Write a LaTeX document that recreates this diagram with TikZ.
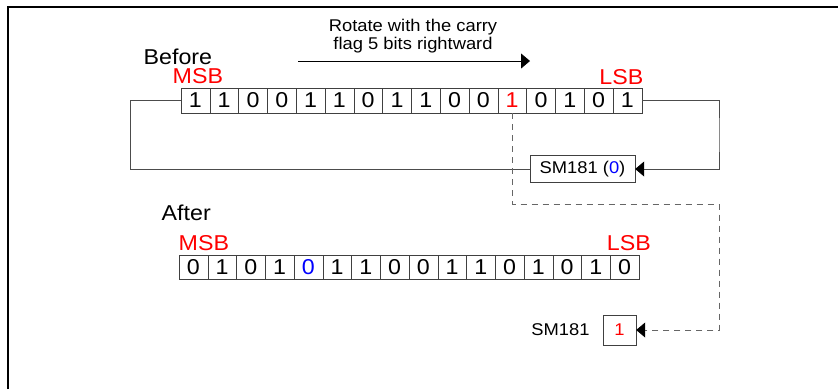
\documentclass[tikz,border=0pt]{standalone}
\usepackage{fontspec}
\setmainfont{Liberation Sans}[FakeStretch=1.08]
\usetikzlibrary{arrows.meta,positioning}

\begin{document}
\begin{tikzpicture}[
  x=1pt,y=-1pt,
  cell/.style={draw=black!75,minimum width=28.8pt,minimum height=25.5pt,inner sep=0pt,font=\fontsize{21.5}{21.5}\selectfont},
  lbl/.style={inner sep=0pt,font=\fontsize{21.5}{21.5}\selectfont},
  redlbl/.style={lbl,text=red},
  box/.style={draw=black!75,inner sep=0pt,font=\fontsize{17}{17}\selectfont},
  line/.style={draw=black!70,line width=0.9pt},
  arrow/.style={line,-{Triangle[length=9pt,width=15pt,color=black]}},
  dashline/.style={arrow,draw=black!60,dash pattern=on 6pt off 5pt}
]
\useasboundingbox (0,0) rectangle (838,389);
\draw[line width=2.4pt] (8,389) -- (8,7) -- (838,7);

% register before the rotation
\foreach \bit/\col [count=\i] in {1/black,1/black,0/black,0/black,1/black,1/black,0/black,1/black,
                                   1/black,0/black,0/black,1/red,0/black,1/black,0/black,1/black}
  \node[cell,text=\col] (b\i) at ({166.6+28.8*\i},100.5) {\bit};
\node[lbl,anchor=base west] (before) at (143.5,64.5) {Before};
\node[redlbl,anchor=base west] (msbB) at (172.5,83.5) {MSB};
\node[redlbl,anchor=base east] (lsbB) at (643.5,84.5) {LSB};

% direction of the rotation
\node[align=center,inner sep=0pt,font=\fontsize{17}{18}\selectfont] (rot) at (413,36.5)
  {Rotate with the carry\\flag 5 bits rightward};
\coordinate (rotS) at (298,61);
\coordinate (rotE) at (530,61);
\draw[arrow,draw=black,line width=0.8pt] (rotS) -- (rotE);

% carry flag in the loop
\node[box,minimum width=105pt,minimum height=27pt] (sm) at (582.5,169)
  {SM181 (\textcolor{blue}{0})};
\coordinate (loopL) at (130,169);
\coordinate (loopR) at (719,135);
\draw[line] (b1.west) -| (loopL) -- (sm.west);
\draw[arrow] (b16.east) -| (loopR) |- (sm.east);

% register after the rotation
\foreach \bit/\col [count=\i] in {0/black,1/black,0/black,1/black,0/blue,1/black,1/black,0/black,
                                   0/black,1/black,1/black,0/black,1/black,0/black,1/black,0/black}
  \node[cell,minimum width=28.75pt,minimum height=24pt,text=\col] (a\i) at ({164.625+28.75*\i},267) {\bit};
\node[lbl,anchor=base west] (after) at (161.5,220) {After};
\node[redlbl,anchor=base west] (msbA) at (178.5,250) {MSB};
\node[redlbl,anchor=base east] (lsbA) at (651,250) {LSB};

% carry flag afterwards
\node[box,minimum width=33pt,minimum height=30pt,text=red] (carry) at (619.5,330) {1};
\node[box,draw=none,left=13pt of carry] (carrylbl) {SM181};
\coordinate (dashR) at (719,204);
\draw[dashline] (b12.south) |- (dashR) |- (carry.east);
\end{tikzpicture}
\end{document}
